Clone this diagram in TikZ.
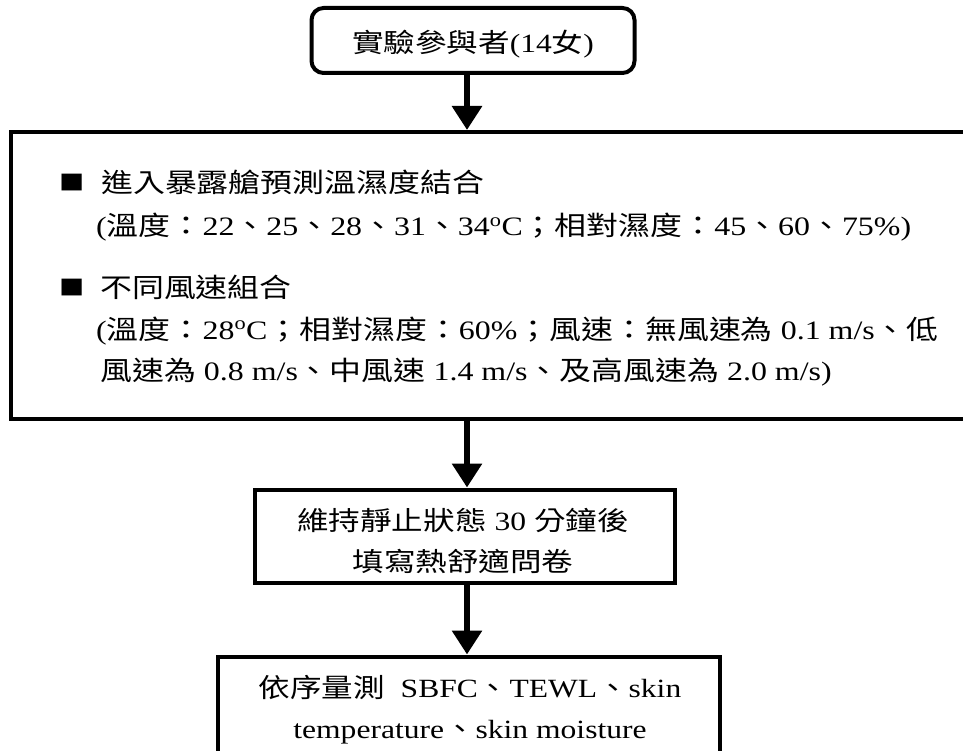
\documentclass[tikz,border=0pt]{standalone}
\usepackage{fontspec}
\setmainfont[FakeStretch=1.2]{Liberation Serif}
\newfontfamily\cjk[FakeStretch=1.2]{Noto Sans CJK TC}
\newcommand\zh[1]{{\cjk #1}}
\usetikzlibrary{arrows.meta}
\begin{document}
\begin{tikzpicture}[x=1pt,y=-1pt,
  boxline/.style={draw, line width=4pt, inner sep=0pt},
  arr/.style={line width=6.5pt, -{Triangle[length=24pt,width=29pt]}},
  txtfont/.style={font=\fontsize{26.3}{41}\selectfont},
  txt/.style={anchor=base west, inner sep=0pt, font=\fontsize{26.6}{41}\selectfont}]
\useasboundingbox (0,0) rectangle (963,751);
\clip (0,0) rectangle (963,751);
\coordinate (ax) at (467,0);
% top box
\node[boxline, rounded corners=12pt, minimum width=323pt, minimum height=65pt] (p) at (473,40.5) {};
\node[inner sep=0pt, txtfont] (pt) at (473,44) {\zh{實驗參與者}(14\zh{女})};
% big box
\node[boxline, minimum width=964pt, minimum height=287pt] (env) at (493,275.5) {};
\node[txt, font=\fontsize{21}{24}\selectfont] (b1) at (59,191) {\zh{■}};
\node[txt] (l1) at (101,193) {\zh{進入暴露艙預測溫濕度結合}};
\node[txt] (l2) at (96,236) {(\zh{溫度：}22\zh{、}25\zh{、}28\zh{、}31\zh{、}34\textsuperscript{o}C\zh{；相對濕度：}45\zh{、}60\zh{、}75\%)};
\node[txt, font=\fontsize{21}{24}\selectfont] (b2) at (59,295) {\zh{■}};
\node[txt] (l3) at (100,297) {\zh{不同風速組合}};
\node[txt] (l4) at (96,339) {(\zh{溫度：}28\textsuperscript{o}C\zh{；相對濕度：}60\%\zh{；風速：無風速為} 0.1 m/s\zh{、低}};
\node[txt] (l5) at (100,380) {\zh{風速為} 0.8 m/s\zh{、中風速} 1.4 m/s\zh{、及高風速為} 2.0 m/s)};
% box 3
\node[boxline, minimum width=419.5pt, minimum height=93pt] (q) at (464.75,536) {};
\node[inner sep=0pt, align=center, txtfont] (qt) at (463,541) {\zh{維持靜止狀態} 30 \zh{分鐘後}\\\zh{填寫熱舒適問卷}};
% box 4
\node[boxline, minimum width=502.5pt, minimum height=113pt] (r) at (468.75,713) {};
\node[inner sep=0pt, align=center, txtfont] (rt) at (470,710) {\zh{依序量測}\ \ SBFC\zh{、}TEWL\zh{、}skin\\temperature\zh{、}skin moisture};
% arrows
\draw[arr] (p.south -| ax) -- (env.north -| ax);
\draw[arr] (env.south -| ax) -- (q.north -| ax);
\draw[arr] (q.south -| ax) -- (r.north -| ax);
\end{tikzpicture}
\end{document}
